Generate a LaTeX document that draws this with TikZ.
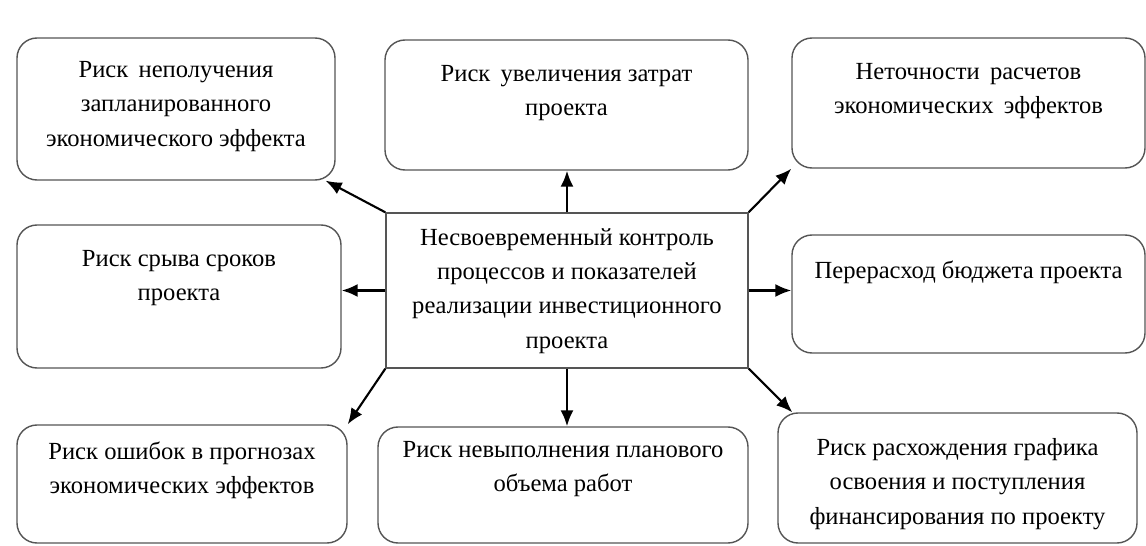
\documentclass[tikz,border=0pt]{standalone}
\usepackage{fontspec}
\setmainfont{Liberation Serif}
\usetikzlibrary{arrows.meta}
\definecolor{boxgray}{RGB}{85,85,85}
\newcommand{\risktext}[4]{\parbox[c][#2][t]{#1}{\centering\vspace*{#3}#4}}

\begin{document}
\begin{tikzpicture}[
    risk/.style={draw=boxgray, line width=0.8pt, rounded corners=0.4cm, inner sep=0pt},
    source/.style={draw=boxgray, line width=0.8pt, inner sep=0pt},
    every node/.style={font=\fontsize{14}{19.5}\selectfont},
    >={Latex[length=3.2mm,width=2.6mm]}]
    \useasboundingbox (0,0) rectangle (22.92,-10.92);
    \node[source] (ctr) at (11.34,-5.81) {\risktext{7.24cm}{3.10cm}{0.31cm}{Несвоевременный контроль\\процессов и показателей\\реализации инвестиционного\\проекта}};
    \node[risk] (tl) at (3.52,-2.18) {\risktext{6.36cm}{2.84cm}{0.47cm}{Риск\, неполучения\\запланированного\\экономического эффекта}};
    \node[risk] (tm) at (11.33,-2.10) {\risktext{7.26cm}{2.60cm}{0.51cm}{Риск\, увеличения затрат\\проекта}};
    \node[risk] (tr) at (19.37,-2.06) {\risktext{7.06cm}{2.60cm}{0.51cm}{Неточности\, расчетов\\экономических\, эффектов}};
    \node[risk] (ml) at (3.58,-5.93) {\risktext{6.48cm}{2.86cm}{0.51cm}{Риск срыва сроков\\проекта}};
    \node[risk] (mr) at (19.37,-5.88) {\risktext{7.06cm}{2.36cm}{0.51cm}{Перерасход бюджета проекта}};
    \node[risk] (bl) at (3.64,-9.68) {\risktext{6.60cm}{2.36cm}{0.33cm}{Риск ошибок в прогнозах\\экономических эффектов}};
    \node[risk] (bm) at (11.26,-9.70) {\risktext{7.40cm}{2.32cm}{0.29cm}{Риск невыполнения планового\\объема работ}};
    \node[risk] (br) at (19.15,-9.56) {\risktext{7.18cm}{2.60cm}{0.51cm}{Риск расхождения графика\\освоения и поступления\\финансирования по проекту}};

    \draw[line width=1.2pt,->] (ctr.north west) -- ([xshift=-2mm]tl.south east);
    \draw[line width=1.2pt,->] (ctr.north) -- (ctr.north |- tm.south);
    \draw[line width=1.2pt,->] (ctr.north east) -- (tr.south west);
    \draw[line width=1.2pt,->] (ctr.west) -- (ctr.west -| ml.east);
    \draw[line width=1.2pt,->] (ctr.east) -- (ctr.east -| mr.west);
    \draw[line width=1.2pt,->] (ctr.south west) -- (bl.north east);
    \draw[line width=1.2pt,->] (ctr.south) -- (ctr.south |- bm.north);
    \draw[line width=1.2pt,->] (ctr.south east) -- ([xshift=3mm]br.north west);
\end{tikzpicture}
\end{document}
